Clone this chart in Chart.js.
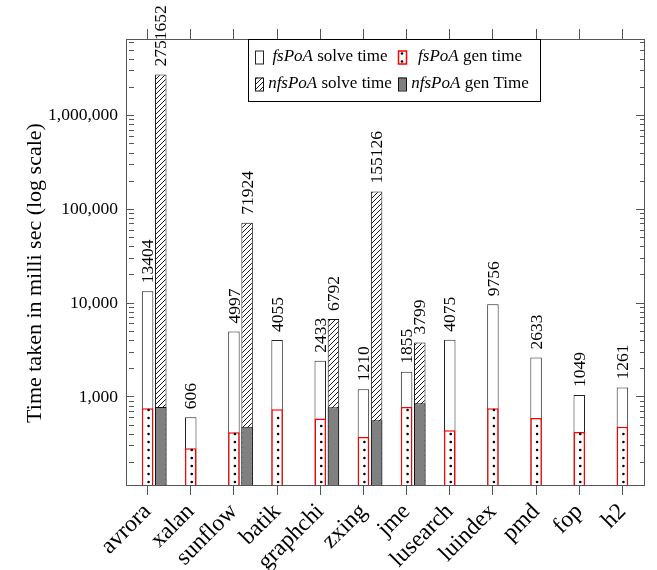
<!DOCTYPE html>
<html>
<head>
<meta charset="utf-8">
<script src="https://cdn.jsdelivr.net/npm/chart.js@4.4.1/dist/chart.umd.min.js"></script>
<style>
  html, body { margin: 0; padding: 0; background: #fff; }
</style>
</head>
<body>
<canvas id="c" width="657" height="570"></canvas>
<script>
// Benchmarks on the x axis
const CATEGORIES = ['avrora', 'xalan', 'sunflow', 'batik', 'graphchi', 'zxing',
                    'jme', 'lusearch', 'luindex', 'pmd', 'fop', 'h2'];

// fsPoA: total solve time and generation time (ms)
const FS_SOLVE = [13404, 606, 4997, 4055, 2433, 1210, 1855, 4075, 9756, 2633, 1049, 1261];
const FS_GEN   = [756, 283, 419, 738, 588, 375, 782, 441, 756, 597, 424, 482];

// nfsPoA: total solve time and generation time (ms); missing runs are null
const NFS_SOLVE = [2751652, null, 71924, null, 6792, 155126, 3799, null, null, null, null, null];
const NFS_GEN   = [782, null, 482, null, 774, 563, 855, null, null, null, null, null];

// Log axis range and labelled decades
const Y_MIN = 115;
const Y_MAX = 6.58e6;
const Y_MAJOR = [1000, 10000, 100000, 1000000];

const SERIF = '"Liberation Serif", "Times New Roman", serif';
const FRAME = '#555';

// all 1..9 x 10^n values inside the axis range
function logTickValues() {
  const out = [];
  for (let e = 2; e <= 6; e++) {
    for (let m = 1; m <= 9; m++) {
      const v = m * Math.pow(10, e);
      if (v >= Y_MIN && v <= Y_MAX) out.push(v);
    }
  }
  return out;
}

function makeHatch() {
  const s = 5;
  const tile = document.createElement('canvas');
  tile.width = s; tile.height = s;
  const g = tile.getContext('2d');
  g.fillStyle = '#fff';
  g.fillRect(0, 0, s, s);
  g.strokeStyle = '#000';
  g.lineWidth = 0.9;
  g.beginPath();
  g.moveTo(-1, s + 1); g.lineTo(s + 1, -1);
  g.moveTo(-1, 1); g.lineTo(1, -1);
  g.moveTo(s - 1, s + 1); g.lineTo(s + 1, s - 1);
  g.stroke();
  return g.createPattern(tile, 'repeat');
}
const HATCH = makeHatch();

function drawDotColumn(ctx, x, yBottom, yTop) {
  ctx.fillStyle = '#000';
  for (let yy = yBottom - 3; yy > yTop + 1.5; yy -= 8) {
    ctx.beginPath();
    ctx.arc(x, yy, 1.3, 0, Math.PI * 2);
    ctx.fill();
  }
}

// dotted fill of the fsPoA generation bars
const genDots = {
  id: 'genDots',
  afterDatasetsDraw(chart) {
    const ctx = chart.ctx;
    const meta = chart.getDatasetMeta(1);
    const bottom = chart.chartArea.bottom;
    ctx.save();
    meta.data.forEach((bar, i) => {
      if (FS_GEN[i] == null) return;
      drawDotColumn(ctx, bar.x + 1, bottom, bar.y);
    });
    ctx.restore();
  }
};

// rotated totals above the solve-time bars
const totals = {
  id: 'totals',
  afterDraw(chart) {
    const ctx = chart.ctx;
    ctx.save();
    ctx.font = '17.5px ' + SERIF;
    ctx.fillStyle = '#000';
    ctx.textAlign = 'left';
    ctx.textBaseline = 'middle';
    [2, 4].forEach(di => {
      const values = chart.data.datasets[di].data;
      chart.getDatasetMeta(di).data.forEach((bar, i) => {
        const v = values[i];
        if (v == null) return;
        ctx.save();
        ctx.translate(bar.x + 1, bar.y - 8);
        ctx.rotate(-Math.PI / 2);
        ctx.fillText(String(v), 0, 0);
        ctx.restore();
      });
    });
    ctx.restore();
  }
};

// boxed two-column legend with italic scheme names
const boxLegend = {
  id: 'boxLegend',
  afterDraw(chart) {
    const ctx = chart.ctx;
    const a = chart.chartArea;
    const L = a.left + 122, T = a.top, W = 292, H = 62;
    ctx.save();
    ctx.fillStyle = '#fff';
    ctx.fillRect(L, T, W, H);
    ctx.strokeStyle = '#000';
    ctx.lineWidth = 1;
    ctx.strokeRect(L + 0.5, T + 0.5, W, H);

    const cols = [{icon: L + 7, text: L + 82}, {icon: L + 150, text: L + 222}];
    const rows = [T + 18, T + 45];
    const order = [2, 1, 4, 3];
    order.forEach((di, k) => {
      const ds = chart.data.datasets[di];
      const c = cols[k % 2];
      const cy = rows[Math.floor(k / 2)];
      const ix = c.icon, iy = cy - 6.5, iw = 8, ih = 13;
      ctx.fillStyle = ds.backgroundColor;
      ctx.fillRect(ix, iy, iw, ih);
      if (di === 1) drawDotColumn(ctx, ix + 4, iy + ih + 1, iy);
      ctx.strokeStyle = ds.borderColor;
      ctx.lineWidth = di === 1 ? 1.5 : 1;
      ctx.strokeRect(ix + 0.5, iy + 0.5, iw, ih);

      const sp = ds.label.indexOf(' ');
      const name = ds.label.slice(0, sp), rest = ds.label.slice(sp);
      const fi = 'italic 17px ' + SERIF, fn = '17px ' + SERIF;
      ctx.font = fi; const w1 = ctx.measureText(name).width;
      ctx.font = fn; const w2 = ctx.measureText(rest).width;
      let x = c.text - (w1 + w2) / 2;
      ctx.fillStyle = '#000';
      ctx.textBaseline = 'middle';
      ctx.textAlign = 'left';
      ctx.font = fi; ctx.fillText(name, x, cy);
      ctx.font = fn; ctx.fillText(rest, x + w1, cy);
    });
    ctx.restore();
  }
};

const logAxisCommon = {
  type: 'logarithmic',
  min: Y_MIN,
  max: Y_MAX,
  stacked: false,
  afterBuildTicks: s => {
    s.ticks = logTickValues().map(v => ({ value: v, major: Y_MAJOR.includes(v) }));
  },
  grid: {
    drawOnChartArea: false,
    drawTicks: true,
    tickLength: -8,
    tickColor: FRAME,
    tickWidth: 1,
    tickBorderDash: c => (c.tick && Y_MAJOR.includes(c.tick.value)) ? [] : [5, 40]
  },
  border: { display: true, color: FRAME, width: 1 }
};

const xGrid = { offset: false, drawOnChartArea: false, drawTicks: true, tickLength: 10, tickColor: FRAME };

new Chart(document.getElementById('c'), {
  type: 'bar',
  data: {
    labels: CATEGORIES,
    datasets: [
      { label: 'slot', stack: 'pad', data: CATEGORIES.map(() => null), xAxisID: 'x', yAxisID: 'y' },
      { label: 'fsPoA gen time', stack: 'fs', order: 0, data: FS_GEN,
        backgroundColor: '#fff', borderColor: '#f00', borderWidth: 1.5, xAxisID: 'x', yAxisID: 'y' },
      { label: 'fsPoA solve time', stack: 'fs', order: 1, data: FS_SOLVE,
        backgroundColor: '#fff', borderColor: '#222', borderWidth: 1, xAxisID: 'x', yAxisID: 'y' },
      { label: 'nfsPoA gen Time', stack: 'nfs', order: 0, data: NFS_GEN,
        backgroundColor: '#808080', borderColor: '#111', borderWidth: 1, xAxisID: 'x', yAxisID: 'y' },
      { label: 'nfsPoA solve time', stack: 'nfs', order: 1, data: NFS_SOLVE,
        backgroundColor: HATCH, borderColor: '#111', borderWidth: 1, xAxisID: 'x', yAxisID: 'y' }
    ]
  },
  options: {
    responsive: false,
    animation: false,
    devicePixelRatio: 1,
    categoryPercentage: 0.917,
    barPercentage: 0.87,
    layout: { padding: { top: 29, right: 13, bottom: 0, left: 0 } },
    plugins: { legend: { display: false }, tooltip: { enabled: false } },
    scales: {
      x: {
        type: 'category', position: 'bottom', offset: true, stacked: true,
        ticks: { autoSkip: false, minRotation: 45, maxRotation: 45, padding: 3,
                 font: { family: SERIF, size: 23.5 }, color: '#000' },
        grid: xGrid,
        border: { display: true, color: FRAME },
        afterFit: s => { s.height = 85; }
      },
      xTop: {
        type: 'category', position: 'top', offset: true,
        ticks: { display: false },
        grid: xGrid,
        border: { display: true, color: FRAME },
        afterFit: s => { s.height = 10; }
      },
      y: Object.assign({}, logAxisCommon, {
        position: 'left',
        ticks: {
          autoSkip: false, padding: 16, color: '#000',
          font: { family: SERIF, size: 17.5 },
          callback: v => Y_MAJOR.includes(v) ? v.toLocaleString('en-US') : ''
        },
        title: {
          display: true,
          // trailing no-break spaces nudge the rotated title toward the bottom
          text: 'Time taken in milli sec (log scale)\u00a0\u00a0\u00a0\u00a0',
          color: '#000',
          font: { family: SERIF, size: 22 }, padding: { top: 22, bottom: 0 }
        },
        afterFit: s => { s.width = 126; }
      }),
      y2: Object.assign({}, logAxisCommon, {
        position: 'right',
        ticks: { display: false },
        afterFit: s => { s.width = 0; }
      })
    }
  },
  plugins: [genDots, totals, boxLegend]
});
</script>
</body>
</html>
